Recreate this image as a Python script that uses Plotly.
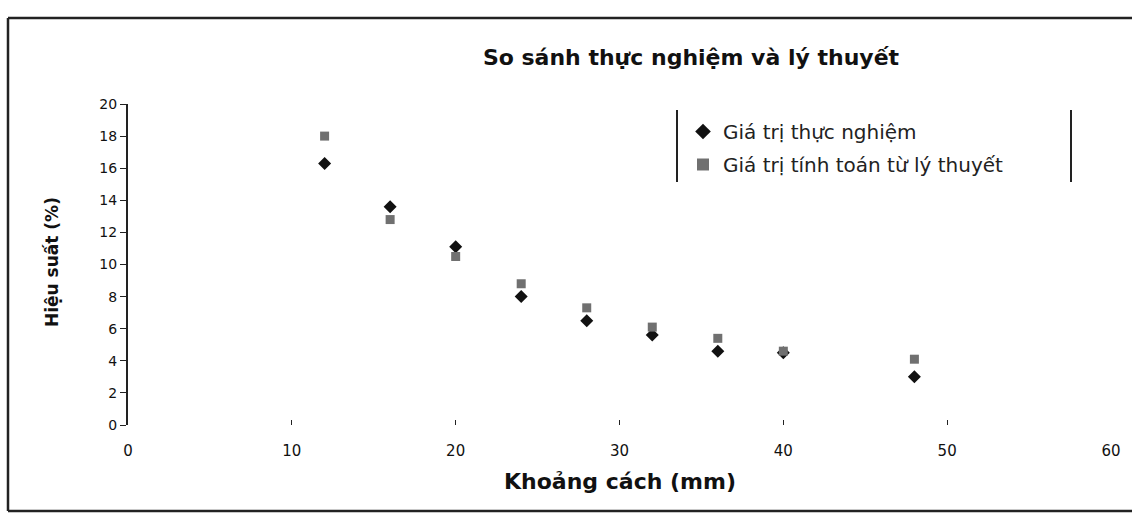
import plotly.graph_objects as go

# distance (mm)
khoang_cach = [12, 16, 20, 24, 28, 32, 36, 40, 48]
# measured efficiency (%)
thuc_nghiem = [16.3, 13.6, 11.1, 8.0, 6.5, 5.6, 4.6, 4.5, 3.0]
# theoretical efficiency (%)
ly_thuyet = [18.0, 12.8, 10.5, 8.8, 7.3, 6.1, 5.4, 4.6, 4.1]

x_ticks = [0, 10, 20, 30, 40, 50, 60]
y_ticks = [0, 2, 4, 6, 8, 10, 12, 14, 16, 18, 20]

FONT = "DejaVu Sans, Verdana, sans-serif"
W, H = 1132, 513
L, R, T, B = 128, 21, 104, 88
pw, ph = W - L - R, H - T - B


def px_x(px):
    return (px - L) / pw


def px_y(py):
    return (H - B - py) / ph


fig = go.Figure()
fig.add_trace(go.Scatter(
    x=khoang_cach, y=thuc_nghiem, mode="markers",
    name="Giá trị thực nghiệm", legendgroup="a",
    marker=dict(symbol="diamond", size=10, color="#111111"),
))
fig.add_trace(go.Scatter(
    x=khoang_cach, y=ly_thuyet, mode="markers",
    name="Giá trị tính toán từ lý thuyết", legendgroup="b",
    marker=dict(symbol="square", size=9, color="#707070"),
))

# outer frame of the chart (scan shows top, left and bottom edges)
for x0, y0, x1, y1 in [(8, 18, W, 18), (8, 18, 8, 511), (8, 511, W, 511)]:
    fig.add_shape(type="line", xref="paper", yref="paper",
                  x0=px_x(x0), y0=px_y(y0), x1=px_x(x1), y1=px_y(y1),
                  line=dict(color="#222222", width=2.5))

# legend box sides
for xx in (677, 1071):
    fig.add_shape(type="line", xref="paper", yref="paper",
                  x0=px_x(xx), x1=px_x(xx), y0=px_y(110), y1=px_y(182),
                  line=dict(color="#222222", width=2))

# axis titles
fig.add_annotation(text="<b>Khoảng cách (mm)</b>", xref="paper", yref="paper",
                   x=px_x(620), y=px_y(482), xanchor="center", yanchor="middle",
                   showarrow=False,
                   font=dict(size=22, family=FONT, color="#111111"))
fig.add_annotation(text="<b>Hiệu suất (%)</b>", xref="paper", yref="paper",
                   x=px_x(52), y=px_y(262), xanchor="center", yanchor="middle",
                   showarrow=False, textangle=-90,
                   font=dict(size=17, family=FONT, color="#111111"))

fig.update_layout(
    width=W, height=H,
    margin=dict(l=L, r=R, t=T, b=B),
    paper_bgcolor="white", plot_bgcolor="white",
    font=dict(family=FONT, color="#111111", size=14),
    title=dict(text="<b>So sánh thực nghiệm và lý thuyết</b>",
               x=px_x(691), xref="paper", xanchor="center",
               y=1 - 57 / H, yanchor="middle",
               font=dict(size=22, family=FONT, color="#111111")),
    legend=dict(x=px_x(683), y=px_y(112), xanchor="left", yanchor="top",
                font=dict(size=20, family=FONT, color="#222222"),
                bgcolor="rgba(0,0,0,0)", itemsizing="constant",
                tracegroupgap=4, itemwidth=30),
    showlegend=True,
)
fig.update_xaxes(
    range=[0, 60], tickvals=x_ticks, showgrid=False, zeroline=False,
    showline=False, ticks="inside", ticklen=5, tickcolor="#222222",
    tickfont=dict(size=15), ticklabelstandoff=15,
)
fig.update_yaxes(
    range=[0, 20], tickvals=y_ticks, showgrid=False, zeroline=False,
    showline=True, linecolor="#222222", linewidth=2,
    ticks="outside", ticklen=6, tickcolor="#222222",
    tickfont=dict(size=14),
)

fig.write_html("out.html", config={"displayModeBar": False},
               post_script="document.body.style.margin='0';")
